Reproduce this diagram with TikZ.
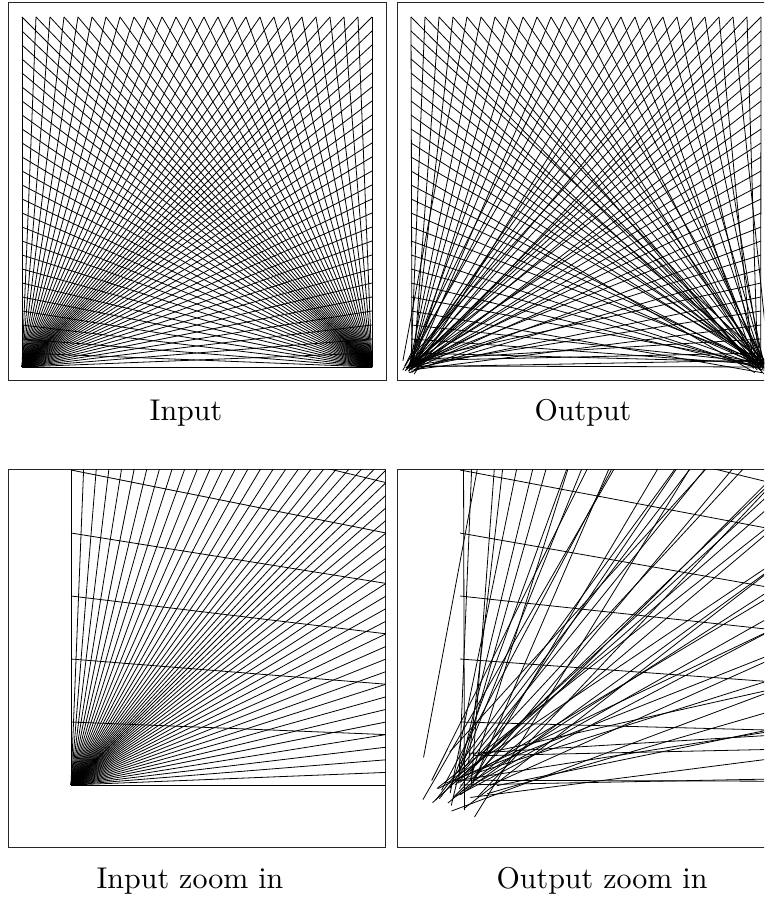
\documentclass[tikz,border=0pt]{standalone}
\usepackage{fontspec}
\newfontfamily\capfont{lmroman10-regular.otf}
\usetikzlibrary{positioning}

% lines of the input: every edge point joined to the two lower corners
\newcommand\inlines{%
  \foreach \i in {0,...,25}{
    \draw[ray] (0,0) -- (\i/25,1);
    \draw[ray] (1,0) -- (\i/25,1);
  }
  \foreach \j in {0,...,24}{
    \draw[ray] (0,0) -- (1,\j/25);
    \draw[ray] (1,0) -- (0,\j/25);
  }}

% lines of the output: the corner end is moved a little
\newcommand\outlines{%
  \pgfmathsetseed{17}
  \foreach \i in {0,...,25}{
    \pgfmathsetmacro\ax{0.0125*(rand+rand)}
    \pgfmathsetmacro\ay{0.0125*(rand+rand)}
    \pgfmathsetmacro\bx{1+0.0125*(rand+rand)}
    \pgfmathsetmacro\by{0.0125*(rand+rand)}
    \draw[ray] (\ax,\ay) -- (\i/25,1);
    \draw[ray] (\bx,\by) -- (\i/25,1);
  }
  \foreach \j in {0,...,24}{
    \pgfmathsetmacro\ax{0.0125*(rand+rand)}
    \pgfmathsetmacro\ay{0.0125*(rand+rand)}
    \pgfmathsetmacro\bx{1+0.0125*(rand+rand)}
    \pgfmathsetmacro\by{0.0125*(rand+rand)}
    \draw[ray] (\ax,\ay) -- (1,\j/25);
    \draw[ray] (\bx,\by) -- (0,\j/25);
  }}

\begin{document}
\begin{tikzpicture}[x=1pt,y=1pt,
  ray/.style={line width=0.8pt,black},
  frame/.style={line width=1pt,black!85},
  lbl/.style={font=\capfont\fontsize{30}{36}\selectfont,inner sep=0pt,anchor=base}]
  \useasboundingbox (0,0) rectangle (764,897);
  \clip (0,0) rectangle (764,897);

  % top row, whole square
  \begin{scope}[shift={(22pt,530pt)},x=350pt,y=350pt]
    \draw[frame] (-0.04,-0.04) rectangle (1.04,1.04);
    \clip (-0.04,-0.04) rectangle (1.04,1.04);
    \inlines
  \end{scope}
  \begin{scope}[shift={(411pt,530pt)},x=350pt,y=350pt]
    \draw[frame] (-0.04,-0.04) rectangle (1.04,1.04);
    \clip (-0.04,-0.04) rectangle (1.04,1.04);
    \outlines
  \end{scope}

  % bottom row, lower left corner
  \begin{scope}[shift={(71pt,112pt)},x=1575pt,y=1575pt]
    \draw[frame] (-0.04,-0.04) rectangle (0.2,0.2);
    \clip (-0.04,-0.04) rectangle (0.2,0.2);
    \inlines
  \end{scope}
  \begin{scope}[shift={(460pt,112pt)},x=1575pt,y=1575pt]
    \draw[frame] (-0.04,-0.04) rectangle (0.2,0.2);
    \clip (-0.04,-0.04) rectangle (0.2,0.2);
    \outlines
  \end{scope}

  \node[lbl] (capin) at (186,476) {Input};
  \node[lbl] (capout) at (583,476) {Output};
  \node[lbl] (capinz) at (190,9) {Input zoom in};
  \node[lbl] (capoutz) at (602,9) {Output zoom in};
\end{tikzpicture}
\end{document}
